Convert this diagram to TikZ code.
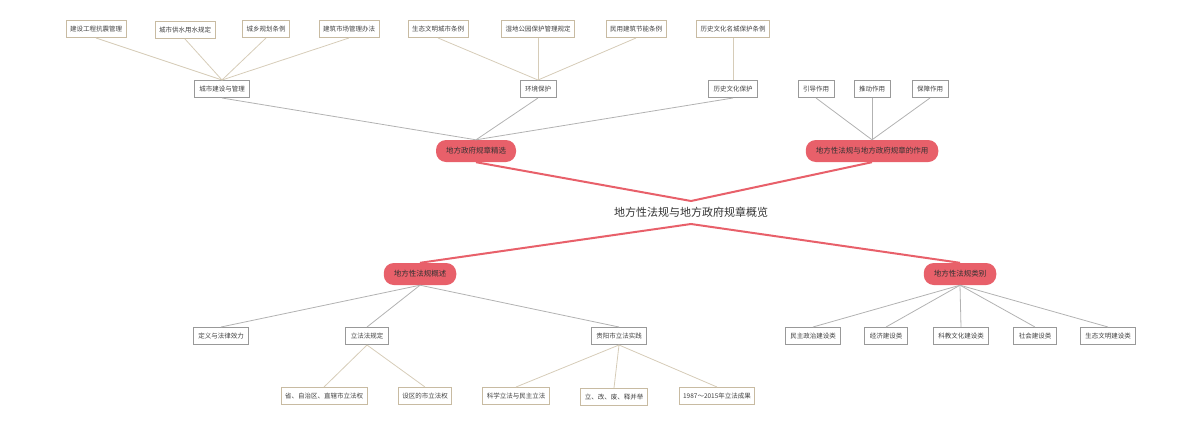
\documentclass[tikz,border=0pt]{standalone}
\usepackage{fontspec}
\newfontfamily\cjk{Noto Sans CJK SC}
\begin{document}
\begin{tikzpicture}[x=1pt,y=-1pt,
 leaf/.style={draw=tanb,line width=1pt,fill=white,font=\cjk\fontsize{6.5}{7}\selectfont,text=black!75,minimum height=17,inner xsep=4},
 mid/.style={draw=gray!80,line width=1pt,fill=white,font=\cjk\fontsize{6.5}{7}\selectfont,text=black!75,minimum height=17,inner xsep=5},
 red/.style={fill=redc,rounded corners=10,font=\cjk\fontsize{7.5}{8}\selectfont,text=black!80,minimum height=22,inner xsep=10},
 tl/.style={draw=tanl,line width=0.8pt},
 gl/.style={draw=gray!60,line width=0.8pt},
 rl/.style={draw=redc,line width=2pt}]
\definecolor{tanb}{HTML}{C8BBA2}
\definecolor{tanl}{HTML}{D6CCB8}
\definecolor{redc}{HTML}{E8606A}
\useasboundingbox (0,0) rectangle (1200,426);
\node[font=\cjk\fontsize{11}{12}\selectfont,text=black!80] (c) at (691,212) {地方性法规与地方政府规章概览};
\node[red] (r1) at (476,151) {地方政府规章精选};
\node[red] (r2) at (872,151) {地方性法规与地方政府规章的作用};
\node[red] (r3) at (420,274) {地方性法规概述};
\node[red] (r4) at (960,274) {地方性法规类别};
\coordinate (ct) at (691,201);
\coordinate (cb) at (691,224);
\draw[rl] (r1.south) -- (ct) -- (r2.south);
\draw[rl] (r3.north) -- (cb) -- (r4.north);
% top mid
\node[mid] (m1) at (222,89) {城市建设与管理};
\node[mid] (m2) at (538,89) {环境保护};
\node[mid] (m3) at (733,89) {历史文化保护};
\node[mid] (m4) at (816,89) {引导作用};
\node[mid] (m5) at (872,89) {推动作用};
\node[mid] (m6) at (930,89) {保障作用};
\node[leaf] (l1) at (96,29) {建设工程抗震管理};
\node[leaf] (l2) at (185,30) {城市供水用水规定};
\node[leaf] (l3) at (266,29) {城乡规划条例};
\node[leaf] (l4) at (349,29) {建筑市场管理办法};
\node[leaf] (l5) at (438,29) {生态文明城市条例};
\node[leaf] (l6) at (538,29) {湿地公园保护管理规定};
\node[leaf] (l7) at (636,29) {民用建筑节能条例};
\node[leaf] (l8) at (733,29) {历史文化名城保护条例};
\foreach \l in {l1,l2,l3,l4} \draw[tl] (\l.south) -- (m1.north);
\foreach \l in {l5,l6,l7} \draw[tl] (\l.south) -- (m2.north);
\draw[tl] (l8.south) -- (m3.north);
\foreach \m in {m1,m2,m3} \draw[gl] (\m.south) -- (r1.north);
\foreach \m in {m4,m5,m6} \draw[gl] (\m.south) -- (r2.north);
% bottom
\node[mid] (b1) at (221,336) {定义与法律效力};
\node[mid] (b2) at (367,336) {立法法规定};
\node[mid] (b3) at (619,336) {贵阳市立法实践};
\node[mid] (b4) at (813,336) {民主政治建设类};
\node[mid] (b5) at (886,336) {经济建设类};
\node[mid] (b6) at (961,336) {科教文化建设类};
\node[mid] (b7) at (1035,336) {社会建设类};
\node[mid] (b8) at (1108,336) {生态文明建设类};
\foreach \m in {b1,b2,b3} \draw[gl] (r3.south) -- (\m.north);
\foreach \m in {b4,b5,b6,b7,b8} \draw[gl] (r4.south) -- (\m.north);
\node[leaf] (d1) at (324,396) {省、自治区、直辖市立法权};
\node[leaf] (d2) at (425,396) {设区的市立法权};
\node[leaf] (d3) at (516,396) {科学立法与民主立法};
\node[leaf] (d4) at (614,397) {立、改、废、释并举};
\node[leaf] (d5) at (717,396) {1987～2015年立法成果};
\foreach \d in {d1,d2} \draw[tl] (b2.south) -- (\d.north);
\foreach \d in {d3,d4,d5} \draw[tl] (b3.south) -- (\d.north);
\end{tikzpicture}
\end{document}
